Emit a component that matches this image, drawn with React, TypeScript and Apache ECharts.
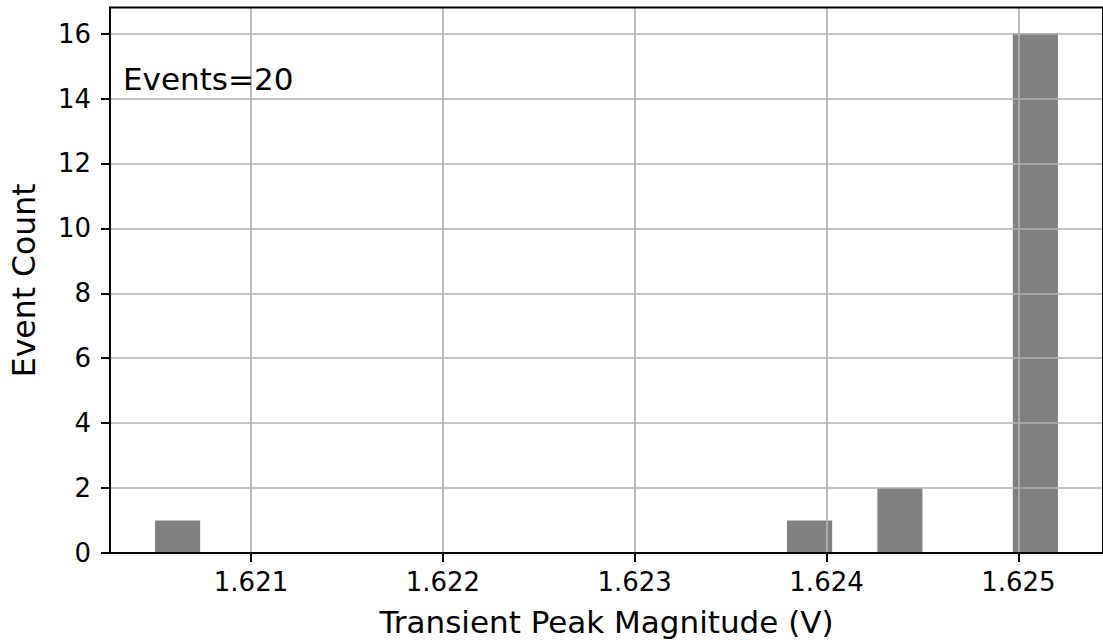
import React, { useEffect, useRef } from "react";
import * as echarts from "echarts";

// Histogram bins that hold events (lower edge, upper edge, count)
const binLower = [1.6205, 1.623794, 1.624265, 1.624971];
const binUpper = [1.620735, 1.624029, 1.6245, 1.625206];
const binCounts = [1, 1, 2, 16];

const xTicks = [1.621, 1.622, 1.623, 1.624, 1.625];
const yTicks = [0, 2, 4, 6, 8, 10, 12, 14, 16];

const X_MIN = 1.620265;
const X_MAX = 1.625441;
const Y_MAX = 16.8;

const totalEvents = 20;

const FONT = "DejaVu Sans";

export default function App() {
  const ref = useRef<HTMLDivElement>(null);

  useEffect(() => {
    if (!ref.current) return;
    const chart = echarts.init(ref.current, undefined, { renderer: "svg" });

    const data = binCounts.map((c, i) => [binLower[i], binUpper[i], c]);

    chart.setOption({
      animation: false,
      backgroundColor: "#ffffff",
      grid: {
        left: 104,
        top: 7.6,
        right: -1.4,
        bottom: 86,
        show: true,
        borderColor: "#000000",
        borderWidth: 2,
        backgroundColor: "transparent",
        z: 6,
      },
      xAxis: {
        type: "value",
        min: X_MIN,
        max: X_MAX,
        z: 5,
        axisLine: { show: true, lineStyle: { color: "#000", width: 2 } },
        axisTick: {
          show: true,
          length: 9,
          lineStyle: { color: "#000", width: 2 },
          customValues: xTicks,
        },
        axisLabel: {
          customValues: xTicks,
          color: "#000",
          fontFamily: FONT,
          fontSize: 26,
          margin: 16,
          formatter: (v: number) => v.toFixed(3),
        },
        splitLine: { show: true, lineStyle: { color: "#b0b0b0", width: 1.7 } },
        name: "Transient Peak Magnitude (V)",
        nameLocation: "middle",
        nameGap: 53,
        nameTextStyle: { color: "#000", fontFamily: FONT, fontSize: 31 },
      },
      yAxis: {
        type: "value",
        min: 0,
        max: Y_MAX,
        z: 5,
        axisLine: { show: true, lineStyle: { color: "#000", width: 2 } },
        axisTick: {
          show: true,
          length: 9,
          lineStyle: { color: "#000", width: 2 },
          customValues: yTicks,
        },
        axisLabel: {
          customValues: yTicks,
          color: "#000",
          fontFamily: FONT,
          fontSize: 26,
          margin: 19,
        },
        splitLine: { show: true, lineStyle: { color: "#b0b0b0", width: 1.7 } },
        name: "Event Count",
        nameLocation: "middle",
        nameRotate: 90,
        nameGap: 70,
        nameTextStyle: { color: "#000", fontFamily: FONT, fontSize: 31.5 },
      },
      series: [
        {
          type: "custom",
          z: 2,
          data,
          encode: { x: [0, 1], y: 2 },
          renderItem: (params: any, api: any) => {
            const p0 = api.coord([api.value(0), 0]);
            const p1 = api.coord([api.value(1), api.value(2)]);
            return {
              type: "rect",
              shape: {
                x: p0[0],
                y: p1[1],
                width: p1[0] - p0[0],
                height: p0[1] - p1[1],
              },
              style: { fill: "#808080" },
            };
          },
        },
      ],
      graphic: [
        {
          type: "text",
          x: 123,
          y: 79,
          z: 10,
          style: {
            text: `Events=${totalEvents}`,
            fill: "#000",
            fontFamily: FONT,
            fontSize: 31,
            verticalAlign: "middle",
            align: "left",
          },
        },
      ],
    });

    return () => chart.dispose();
  }, []);

  return (
    <div
      ref={ref}
      style={{ position: "fixed", left: 0, top: 0, width: 1103, height: 642 }}
    />
  );
}
